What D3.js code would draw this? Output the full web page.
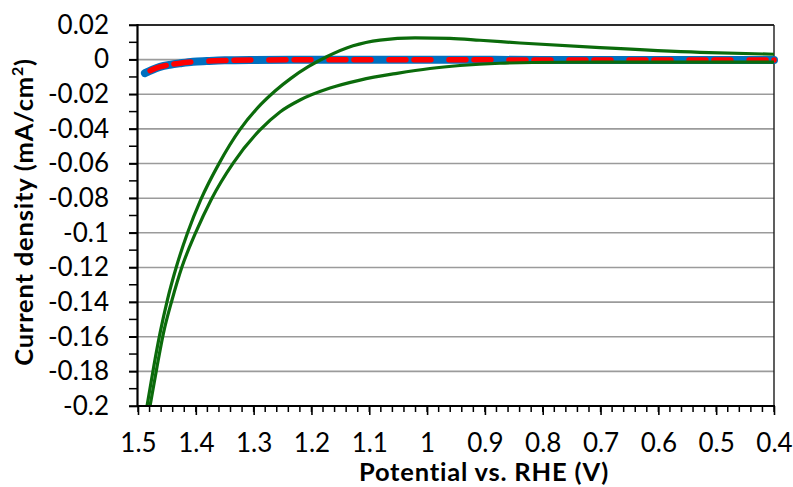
<!DOCTYPE html>
<html>
<head>
<meta charset="utf-8">
<script src="https://cdn.jsdelivr.net/npm/d3@7"></script>
<style>
  html, body { margin: 0; padding: 0; background: #fff; }
  svg { display: block; font-family: "Lato", "Open Sans", sans-serif; }
</style>
</head>
<body>
<svg id="chart" width="793" height="487"></svg>
<script>
// Axis ticks
const potentialTicks = [1.5, 1.4, 1.3, 1.2, 1.1, 1.0, 0.9, 0.8, 0.7, 0.6, 0.5, 0.4];
const currentTicks = [0.02, 0, -0.02, -0.04, -0.06, -0.08, -0.1, -0.12, -0.14, -0.16, -0.18, -0.2];

// Blue trace (potential V, current density mA/cm2)
const bluePotential = [1.488, 1.475, 1.462, 1.445, 1.427, 1.405, 1.381, 1.350, 1.300, 1.200, 1.100, 1.000, 0.900, 0.800, 0.700, 0.600, 0.500, 0.400];
const blueCurrent   = [-0.0078, -0.0058, -0.0042, -0.0030, -0.0021, -0.0012, -0.0008, -0.0004, -0.0002, -0.0001, -0.0001, -0.0001, -0.0001, -0.0002, -0.0002, -0.0002, -0.0002, -0.0002];

// Red dashed trace
const redPotential = [1.479, 1.470, 1.452, 1.430, 1.400, 1.350, 1.300, 1.200, 1.100, 1.000, 0.900, 0.800, 0.700, 0.600, 0.500, 0.400];
const redCurrent   = [-0.0064, -0.0050, -0.0034, -0.0022, -0.0012, -0.0005, -0.0002, -0.0001, -0.0001, -0.0001, -0.0001, -0.0002, -0.0002, -0.0002, -0.0002, -0.0002];

// Green cyclic voltammogram, branch with the anodic hump
const greenUpperPotential = [1.4844, 1.4728, 1.4618, 1.4492, 1.4336, 1.4144, 1.3916, 1.3597, 1.3241, 1.2867, 1.2630, 1.2356, 1.2055, 1.1728, 1.1280, 1.0814, 1.0209, 0.9604, 0.9085, 0.8393, 0.7009, 0.5280, 0.4000];
const greenUpperCurrent   = [-0.2000, -0.1773, -0.1578, -0.1388, -0.1196, -0.1001, -0.0810, -0.0599, -0.0406, -0.0256, -0.0181, -0.0108, -0.0041, 0.0018, 0.0080, 0.0113, 0.0126, 0.0123, 0.0112, 0.0096, 0.0069, 0.0042, 0.0031];

// Green cyclic voltammogram, return branch
const greenLowerPotential = [1.4792, 1.4671, 1.4559, 1.4412, 1.4239, 1.4005, 1.3737, 1.3357, 1.2890, 1.2544, 1.2198, 1.1679, 1.1160, 1.0520, 0.9950, 0.9431, 0.8739, 0.7701, 0.6145, 0.4000];
const greenLowerCurrent   = [-0.2000, -0.1773, -0.1578, -0.1388, -0.1196, -0.1001, -0.0810, -0.0599, -0.0406, -0.0302, -0.0233, -0.0164, -0.0118, -0.0079, -0.0051, -0.0034, -0.0021, -0.0015, -0.0014, -0.0014];

const zip = (xs, ys) => xs.map((x, i) => [x, ys[i]]);

const svg = d3.select("#chart");
const plot = { left: 138, right: 774, top: 25, bottom: 406 };

const x = d3.scaleLinear().domain([1.5, 0.4]).range([plot.left, plot.right]);
const y = d3.scaleLinear().domain([-0.2, 0.02]).range([plot.bottom, plot.top]);

// Horizontal gridlines
svg.append("g")
  .selectAll("line")
  .data(currentTicks.filter(v => v > -0.2 && v < 0.02))
  .join("line")
  .attr("x1", plot.left).attr("x2", plot.right)
  .attr("y1", d => y(d)).attr("y2", d => y(d))
  .attr("stroke", "#9b9b9b").attr("stroke-width", 1.6);

// Plot border (top and right)
svg.append("line")
  .attr("x1", plot.left).attr("x2", plot.right)
  .attr("y1", y(0.02)).attr("y2", y(0.02))
  .attr("stroke", "#2a2a2a").attr("stroke-width", 2);
svg.append("line")
  .attr("x1", plot.right).attr("x2", plot.right)
  .attr("y1", plot.top).attr("y2", plot.bottom)
  .attr("stroke", "#1a1a1a").attr("stroke-width", 1.4);

// Clip region for the traces
svg.append("clipPath").attr("id", "plotClip")
  .append("rect")
  .attr("x", plot.left).attr("y", plot.top - 6)
  .attr("width", plot.right - plot.left + 4).attr("height", plot.bottom - plot.top + 6);

const smoothLine = d3.line()
  .x(d => x(d[0]))
  .y(d => y(d[1]))
  .curve(d3.curveCatmullRom.alpha(0.5));

// Green branches are ordered left to right on screen for the monotone spline
const monoLine = d3.line()
  .x(d => x(d[0]))
  .y(d => y(d[1]))
  .curve(d3.curveMonotoneX);

const traces = svg.append("g").attr("clip-path", "url(#plotClip)");

traces.append("path")
  .attr("d", smoothLine(zip(bluePotential, blueCurrent)))
  .attr("fill", "none")
  .attr("stroke", "#0070c0")
  .attr("stroke-width", 8)
  .attr("stroke-linecap", "round")
  .attr("stroke-linejoin", "round");

traces.append("path")
  .attr("d", smoothLine(zip(redPotential, redCurrent)))
  .attr("fill", "none")
  .attr("stroke", "#ff0000")
  .attr("stroke-width", 5.5)
  .attr("stroke-linecap", "round")
  .attr("stroke-dasharray", "17,8,17,18");

[zip(greenUpperPotential, greenUpperCurrent), zip(greenLowerPotential, greenLowerCurrent)]
  .forEach(branch => {
    traces.append("path")
      .attr("d", monoLine(branch))
      .attr("fill", "none")
      .attr("stroke", "#0b6b0b")
      .attr("stroke-width", 3.2)
      .attr("stroke-linejoin", "round");
  });

// X axis: major ticks every 0.1, minor every 0.02
const xMinor = d3.range(0, 56).map(i => +(1.5 - i * 0.02).toFixed(2)).filter(v => v >= 0.4);
svg.append("g").selectAll("line")
  .data(xMinor)
  .join("line")
  .attr("x1", d => x(d)).attr("x2", d => x(d))
  .attr("y1", plot.bottom).attr("y2", plot.bottom + 6)
  .attr("stroke", "#000").attr("stroke-width", 1.5);

const xAxis = d3.axisBottom(x)
  .tickValues(potentialTicks)
  .tickSize(9)
  .tickPadding(19)
  .tickFormat(d => String(+d.toFixed(1)));
const gx = svg.append("g")
  .attr("transform", `translate(0,${plot.bottom})`)
  .call(xAxis);
gx.select(".domain").remove();
gx.selectAll(".tick line").attr("stroke", "#000").attr("stroke-width", 1.6);
gx.selectAll(".tick text")
  .attr("font-family", "Lato, 'Open Sans', sans-serif")
  .attr("font-size", 26)
  .attr("fill", "#000");

// Y axis: major ticks every 0.02, minor every 0.01
const yMinor = d3.range(0, 23).map(i => +(0.02 - i * 0.01).toFixed(2));
svg.append("g").selectAll("line")
  .data(yMinor)
  .join("line")
  .attr("x1", plot.left - 9).attr("x2", plot.left)
  .attr("y1", d => y(d)).attr("y2", d => y(d))
  .attr("stroke", "#000").attr("stroke-width", 1.5);

const yAxis = d3.axisLeft(y)
  .tickValues(currentTicks)
  .tickSize(9)
  .tickPadding(20)
  .tickFormat(d => String(+d.toFixed(2)));
const gy = svg.append("g")
  .attr("transform", `translate(${plot.left},0)`)
  .call(yAxis);
gy.select(".domain").remove();
gy.selectAll(".tick line").attr("stroke", "#000").attr("stroke-width", 1.6);
gy.selectAll(".tick text")
  .attr("font-family", "Lato, 'Open Sans', sans-serif")
  .attr("font-size", 26)
  .attr("fill", "#000");

// Axis lines
svg.append("line")
  .attr("x1", plot.left - 1).attr("x2", plot.right + 1)
  .attr("y1", plot.bottom).attr("y2", plot.bottom)
  .attr("stroke", "#000").attr("stroke-width", 2.2);
svg.append("line")
  .attr("x1", plot.left - 0.5).attr("x2", plot.left - 0.5)
  .attr("y1", plot.top - 1).attr("y2", plot.bottom + 1)
  .attr("stroke", "#000").attr("stroke-width", 2.2);

// Axis titles
svg.append("text")
  .attr("x", 484).attr("y", 481)
  .attr("text-anchor", "middle")
  .attr("font-size", 25.5)
  .attr("font-weight", "bold")
  .attr("letter-spacing", 0.8)
  .text("Potential vs. RHE (V)");

const yTitle = svg.append("text")
  .attr("transform", "translate(33,212) rotate(-90)")
  .attr("text-anchor", "middle")
  .attr("font-size", 25.5)
  .attr("font-weight", "bold")
  .attr("letter-spacing", 0.8);
yTitle.append("tspan").text("Current density (mA/cm");
yTitle.append("tspan").attr("font-size", 16).attr("dy", -10).text("2");
yTitle.append("tspan").attr("dy", 10).text(")");
</script>
</body>
</html>
